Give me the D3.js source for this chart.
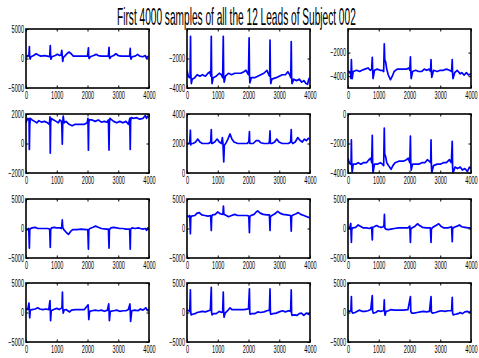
<!DOCTYPE html>
<html>
<head>
<meta charset="utf-8">
<script src="https://cdn.jsdelivr.net/npm/d3@7"></script>
<style>
  html, body { margin: 0; padding: 0; background: #fff; }
  svg { display: block; }
</style>
</head>
<body>
<svg id="chart" width="479" height="358"></svg>
<script>
// 12-lead ECG, first 4000 samples: [sample, amplitude] vertices per lead
const lead1 = [[0,500],[30,300],[60,500],[95,400],[110,2000],[120,300],[135,-100],[160,300],[250,500],[330,800],[400,600],[480,400],[600,500],[700,400],[770,300],[790,2200],[800,500],[810,-100],[840,300],[950,500],[1020,700],[1090,500],[1140,600],[1165,1400],[1175,600],[1195,-500],[1215,200],[1260,400],[1330,800],[1400,1100],[1470,800],[1540,400],[1700,400],[1850,400],[2000,400],[2030,1800],[2040,300],[2055,0],[2090,300],[2200,500],[2280,700],[2350,500],[2450,400],[2600,400],[2680,400],[2700,1900],[2712,200],[2725,0],[2760,300],[2850,500],[2920,800],[3000,500],[3100,400],[3250,400],[3370,400],[3390,1700],[3400,200],[3415,-100],[3450,300],[3550,400],[3630,700],[3700,400],[3800,300],[3880,500],[3920,0],[3950,300],[4000,400]];
const lead2 = [[0,-2800],[40,-3200],[80,-3300],[100,-3200],[115,-500],[125,-3000],[140,-3700],[170,-3400],[250,-3300],[330,-3100],[420,-3200],[500,-3100],[600,-3200],[680,-3000],[750,-2900],[775,-3200],[790,-500],[800,-3000],[815,-3700],[850,-3300],[950,-3200],[1050,-3000],[1120,-3100],[1160,-3300],[1180,-500],[1192,-3200],[1210,-3600],[1250,-3200],[1350,-3000],[1450,-3100],[1550,-3000],[1650,-3000],[1750,-3000],[1850,-2900],[1920,-2800],[1970,-3000],[2000,-3100],[2020,-600],[2032,-3100],[2045,-3650],[2090,-3300],[2200,-3300],[2300,-3200],[2400,-3100],[2500,-3000],[2600,-2800],[2660,-3100],[2690,-3200],[2700,-750],[2712,-3100],[2725,-3700],[2760,-3400],[2900,-3300],[3000,-3200],[3100,-3100],[3200,-3100],[3280,-2900],[3340,-3100],[3375,-3300],[3390,-850],[3402,-3200],[3415,-3700],[3470,-3400],[3560,-3500],[3650,-3400],[3730,-3600],[3800,-3500],[3870,-3700],[3920,-3750],[3960,-3400],[4000,-3300]];
const lead3 = [[0,-3500],[40,-3700],[80,-3600],[95,-4200],[110,-2600],[122,-3600],[135,-4200],[170,-3600],[280,-3500],[380,-3600],[450,-3500],[550,-3400],[650,-3300],[720,-3500],[770,-3400],[790,-2400],[802,-3500],[815,-4200],[860,-3500],[950,-3400],[1050,-3500],[1110,-3500],[1160,-3600],[1180,-1250],[1195,-2600],[1225,-2800],[1260,-3400],[1310,-3900],[1380,-4300],[1440,-4000],[1500,-3600],[1600,-3400],[1750,-3400],[1900,-3400],[1980,-3300],[2010,-3500],[2030,-2350],[2042,-3500],[2055,-4200],[2100,-3600],[2200,-3500],[2300,-3600],[2400,-3600],[2480,-3400],[2560,-3500],[2640,-3400],[2685,-3600],[2700,-2600],[2712,-3600],[2725,-4100],[2780,-3500],[2900,-3600],[3000,-3500],[3100,-3500],[3200,-3400],[3300,-3500],[3370,-3600],[3390,-2600],[3402,-3800],[3415,-4200],[3470,-3700],[3550,-3500],[3650,-3800],[3700,-3700],[3780,-3900],[3850,-3700],[3920,-3900],[4000,-3800]];
const lead4 = [[0,1400],[40,1700],[80,1600],[100,1700],[110,-400],[122,1200],[140,1700],[200,1600],[280,1500],[350,1400],[420,1550],[500,1450],[600,1500],[700,1400],[760,1300],[780,1800],[790,-650],[802,1400],[820,1700],[900,1600],[980,1500],[1050,1400],[1100,1600],[1150,1500],[1165,1300],[1180,-50],[1195,1400],[1210,1850],[1240,1400],[1300,1500],[1400,1300],[1500,1200],[1600,1300],[1700,1300],[1800,1300],[1900,1300],[1990,1400],[2015,1700],[2030,-450],[2042,1400],[2060,1600],[2150,1600],[2250,1500],[2350,1600],[2450,1450],[2550,1500],[2640,1450],[2680,1600],[2700,-450],[2712,1400],[2730,1700],[2850,1500],[2950,1400],[3050,1500],[3150,1400],[3250,1500],[3330,1300],[3375,1700],[3390,-400],[3402,1500],[3420,1750],[3500,1700],[3600,1750],[3700,1650],[3800,1700],[3880,1900],[3920,1700],[3960,1850],[4000,1750]];
const lead5 = [[0,2000],[60,2000],[90,2100],[110,2900],[122,1900],[140,2000],[200,2000],[280,2100],[350,2300],[420,2100],[500,2000],[600,2000],[700,2000],[770,2100],[790,2950],[802,2000],[820,2000],[900,2100],[980,2300],[1050,2100],[1120,2000],[1150,2400],[1170,2000],[1195,750],[1215,1900],[1260,2000],[1330,2300],[1400,2650],[1460,2300],[1530,2100],[1650,2000],[1800,2000],[1950,2000],[2010,2100],[2030,2800],[2042,2000],[2060,2000],[2150,2000],[2250,2200],[2330,2200],[2400,2050],[2500,2000],[2650,2000],[2680,2100],[2700,2850],[2712,2000],[2760,2000],[2850,2100],[2920,2300],[2990,2100],[3100,2000],[3200,2000],[3300,2000],[3370,2100],[3390,2950],[3402,2100],[3440,2000],[3520,2100],[3600,2400],[3680,2200],[3750,2100],[3820,2300],[3880,2200],[3950,2350],[4000,2300]];
const lead6 = [[0,-3000],[40,-3300],[80,-3400],[100,-3300],[110,-1750],[122,-3500],[135,-3950],[170,-3400],[250,-3400],[330,-3300],[420,-3400],[500,-3300],[600,-3300],[680,-3100],[740,-3000],[770,-3300],[790,-1450],[802,-3500],[815,-4000],[860,-3400],[950,-3400],[1050,-3300],[1120,-3400],[1160,-3500],[1180,-950],[1193,-2700],[1225,-2900],[1260,-3300],[1320,-3500],[1400,-3750],[1460,-3500],[1530,-3300],[1650,-3200],[1800,-3200],[1900,-3100],[1960,-3000],[2010,-3300],[2030,-1500],[2042,-3300],[2055,-3800],[2100,-3400],[2200,-3400],[2300,-3400],[2400,-3300],[2500,-3300],[2580,-3100],[2640,-3200],[2690,-3300],[2700,-1750],[2712,-3500],[2725,-4000],[2780,-3500],[2900,-3400],[3000,-3400],[3100,-3300],[3200,-3300],[3300,-3100],[3360,-3300],[3390,-1850],[3402,-3600],[3415,-4000],[3480,-3600],[3560,-3700],[3650,-3600],[3720,-3800],[3800,-3700],[3880,-3900],[3950,-3600],[4000,-3700]];
const lead7 = [[0,-200],[60,-200],[90,0],[110,-3350],[122,-200],[150,0],[200,100],[300,200],[380,0],[500,0],[600,0],[700,0],[770,-100],[790,-3200],[802,-200],[830,100],[920,200],[1000,100],[1100,100],[1150,0],[1165,400],[1180,1450],[1195,200],[1230,-200],[1300,-600],[1380,-1000],[1450,-500],[1520,-200],[1650,-200],[1800,-100],[1950,-200],[2010,-200],[2030,-3500],[2042,-200],[2080,0],[2180,200],[2260,400],[2350,200],[2450,0],[2600,-100],[2680,-100],[2700,-3350],[2712,-200],[2760,100],[2850,200],[2950,100],[3050,0],[3150,0],[3250,-100],[3370,-100],[3390,-3500],[3402,-100],[3450,100],[3550,0],[3650,100],[3720,0],[3800,-100],[3880,0],[3920,-300],[3960,100],[4000,-200]];
const lead8 = [[0,2200],[50,2000],[90,2200],[110,-900],[122,1800],[150,2100],[250,2200],[330,2600],[400,2700],[480,2300],[580,2200],[680,2100],[770,2200],[790,-350],[802,2000],[830,2300],[920,2400],[1000,2800],[1080,2500],[1150,2400],[1170,2600],[1185,3800],[1200,2400],[1250,2300],[1350,2000],[1450,2200],[1550,2400],[1650,2200],[1800,2200],[1950,2200],[2010,2100],[2030,-700],[2042,2000],[2080,2200],[2180,2400],[2250,2800],[2300,3000],[2380,2600],[2480,2400],[2600,2300],[2680,2300],[2700,-350],[2712,2000],[2760,2200],[2860,2500],[2950,2900],[3020,2600],[3120,2400],[3250,2300],[3370,2200],[3390,-450],[3402,2100],[3450,2300],[3550,2500],[3620,2700],[3700,2400],[3800,2200],[3900,2000],[4000,1800]];
const lead9 = [[0,100],[50,0],[90,850],[110,-2350],[122,-200],[150,100],[250,200],[330,600],[400,400],[500,100],[600,100],[700,0],[770,200],[790,-1950],[802,200],[850,300],[930,500],[1000,300],[1080,200],[1150,300],[1170,600],[1185,2400],[1198,100],[1230,-100],[1300,-200],[1400,-100],[1500,0],[1650,100],[1800,100],[1950,100],[2010,400],[2030,-2350],[2042,-100],[2080,100],[2180,400],[2260,800],[2330,500],[2420,200],[2550,100],[2680,100],[2700,-2350],[2712,-100],[2760,200],[2860,500],[2950,800],[3020,400],[3120,100],[3250,100],[3370,300],[3390,-2250],[3402,0],[3450,200],[3550,400],[3620,600],[3700,300],[3800,200],[3900,100],[4000,100]];
const lead10 = [[0,700],[60,500],[95,1600],[110,500],[120,-900],[140,400],[200,500],[300,600],[380,800],[450,600],[550,500],[650,600],[740,500],[780,2000],[790,500],[800,-1400],[820,300],[900,500],[1000,700],[1080,500],[1140,700],[1170,800],[1185,3450],[1195,800],[1210,-100],[1240,400],[1300,500],[1360,300],[1420,100],[1480,400],[1600,500],[1750,500],[1900,500],[2020,1300],[2030,400],[2042,-1200],[2070,200],[2150,300],[2250,400],[2350,300],[2450,400],[2550,200],[2650,400],[2690,1450],[2700,400],[2712,-1400],[2740,200],[2850,300],[2950,400],[3050,200],[3150,300],[3250,300],[3330,500],[3380,1450],[3390,400],[3402,-1500],[3440,300],[3540,400],[3640,300],[3720,600],[3800,400],[3900,800],[3950,300],[4000,600]];
const lead11 = [[0,400],[60,300],[90,200],[110,3850],[120,200],[135,-400],[180,-300],[260,-200],[330,0],[420,100],[500,200],[600,100],[700,300],[760,400],[790,4250],[800,0],[815,-400],[860,-200],[950,-200],[1050,200],[1120,0],[1160,100],[1180,3450],[1192,300],[1205,-800],[1240,-100],[1320,300],[1400,800],[1460,500],[1550,500],[1700,500],[1850,500],[2000,600],[2030,4000],[2042,0],[2055,-300],[2100,-200],[2200,-200],[2300,100],[2400,0],[2500,100],[2600,300],[2680,400],[2700,4000],[2712,0],[2725,-300],[2800,-200],[2900,-100],[3000,100],[3100,300],[3200,100],[3300,300],[3370,200],[3390,3850],[3402,-200],[3420,-500],[3500,-400],[3580,-500],[3650,-200],[3720,-100],[3800,-500],[3880,-100],[3950,-300],[4000,-100]];
const lead12 = [[0,300],[60,200],[95,300],[110,2700],[122,200],[150,-100],[230,0],[300,200],[380,400],[450,200],[550,200],[650,300],[740,500],[790,2850],[800,300],[820,-100],[900,0],[980,300],[1060,200],[1140,300],[1165,400],[1180,2150],[1190,200],[1205,-450],[1240,200],[1320,300],[1400,500],[1500,400],[1650,400],[1800,400],[1950,500],[2030,2700],[2042,200],[2070,-100],[2150,-100],[2250,0],[2350,100],[2450,200],[2550,100],[2650,200],[2700,2700],[2712,100],[2740,-100],[2850,0],[2950,200],[3050,300],[3150,200],[3250,300],[3370,300],[3390,2550],[3402,-100],[3420,-400],[3500,-300],[3580,-200],[3650,0],[3720,-200],[3800,100],[3880,200],[3950,0],[4000,300]];

const leads = [lead1, lead2, lead3, lead4, lead5, lead6, lead7, lead8, lead9, lead10, lead11, lead12];

// y limits and labelled ticks for each lead
const yDomains = [[-5000,5000],[-4000,0],[-5000,0],[-2000,2000],[0,4000],[-4000,0],
                  [-5000,5000],[-5000,5000],[-5000,5000],[-5000,5000],[-5000,5000],[-5000,5000]];
const yTicks = [[-5000,0,5000],[-4000,-2000],[-4000,-2000],[-2000,0,2000],[0,2000,4000],[-4000,-2000,0],
                [-5000,0,5000],[-5000,0,5000],[-5000,0,5000],[-5000,0,5000],[-5000,0,5000],[-5000,0,5000]];
const xDomain = [0, 4000];
const xTicks = [0, 1000, 2000, 3000, 4000];
const titleText = "First 4000 samples of all the 12 Leads of Subject 002";

// grid geometry
const colLeft = [26, 187, 348];
const rowTop = [29, 114, 199, 283];
const axW = 123, axH = 59;
const tickLen = 2.5;
const labelScale = 0.56;
const fontFamily = "Liberation Sans, Arial, sans-serif";

const svg = d3.select("#chart");

// condensed title: measure natural width, then squeeze horizontally to 239px
const title = svg.append("text")
  .attr("font-family", fontFamily)
  .attr("font-size", 24)
  .attr("fill", "#000")
  .text(titleText);
const natural = title.node().getComputedTextLength();
title.attr("transform", `translate(117,25) scale(${239 / natural},1)`);

leads.forEach((data, i) => {
  const r = Math.floor(i / 3), c = i % 3;
  const g = svg.append("g").attr("transform", `translate(${colLeft[c]},${rowTop[r]})`);
  const x = d3.scaleLinear().domain(xDomain).range([0, axW]);
  const y = d3.scaleLinear().domain(yDomains[i]).range([axH, 0]);

  const clipId = "clip" + i;
  g.append("clipPath").attr("id", clipId)
    .append("rect").attr("width", axW).attr("height", axH);

  g.append("path")
    .datum(data)
    .attr("clip-path", `url(#${clipId})`)
    .attr("fill", "none")
    .attr("stroke", "#0000ff")
    .attr("stroke-width", 1.7)
    .attr("stroke-linejoin", "round")
    .attr("d", d3.line().x(d => x(d[0])).y(d => y(d[1])));

  // inward ticks on all four sides
  const bottom = g.append("g").attr("transform", `translate(0,${axH})`)
    .call(d3.axisBottom(x).tickValues(xTicks).tickSize(-tickLen).tickPadding(4).tickFormat(d3.format("d")));
  const top = g.append("g")
    .call(d3.axisTop(x).tickValues(xTicks).tickSize(-tickLen).tickFormat(""));
  const left = g.append("g")
    .call(d3.axisLeft(y).tickValues(yTicks[i]).tickSize(-tickLen).tickPadding(2).tickFormat(d3.format("d")));
  const right = g.append("g").attr("transform", `translate(${axW},0)`)
    .call(d3.axisRight(y).tickValues(yTicks[i]).tickSize(-tickLen).tickFormat(""));

  [bottom, top, left, right].forEach(a => {
    a.select(".domain").remove();
    a.selectAll(".tick line").attr("stroke", "#000").attr("stroke-width", 1);
  });

  bottom.selectAll(".tick text")
    .attr("font-family", fontFamily)
    .attr("font-size", 10).attr("fill", "#000")
    .attr("transform", `scale(${labelScale},1)`);
  left.selectAll(".tick text")
    .attr("font-family", fontFamily)
    .attr("font-size", 10).attr("fill", "#000")
    .attr("x", 0)
    .attr("transform", `translate(-2,0) scale(${labelScale},1)`);

  g.append("rect")
    .attr("width", axW).attr("height", axH)
    .attr("fill", "none").attr("stroke", "#000").attr("stroke-width", 1.6);
});
</script>
</body>
</html>
